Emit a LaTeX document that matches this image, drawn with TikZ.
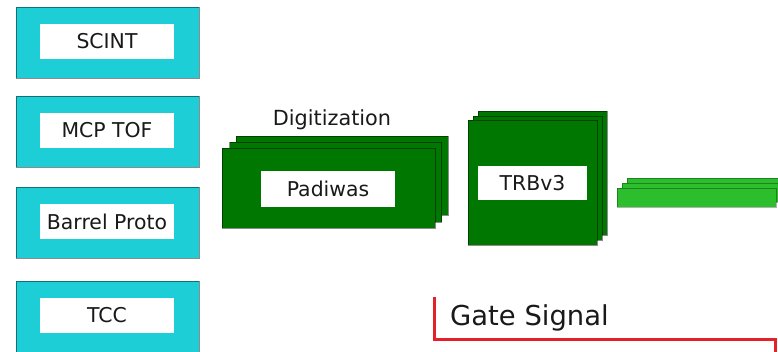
\documentclass[tikz,border=0pt]{standalone}
\usepackage{fontspec}
\setmainfont{DejaVu Sans}
\definecolor{cyanbox}{RGB}{30,206,214}
\definecolor{darkgreen}{RGB}{0,119,0}
\definecolor{lightgreen}{RGB}{44,190,44}
\definecolor{gatered}{RGB}{228,32,40}
\tikzset{
  detbox/.style={draw=black, draw opacity=0.45, line width=1pt, fill=cyanbox, minimum width=183pt, minimum height=71pt, inner sep=0pt},
  labelbox/.style={fill=white, inner sep=0pt, font=\fontsize{20.4}{24}\selectfont, text=black!90},
  gbox/.style={draw=black, draw opacity=0.45, line width=1pt, fill=darkgreen, inner sep=0pt},
  lgbox/.style={draw=black, draw opacity=0.3, line width=0.8pt, fill=lightgreen, inner sep=0pt, minimum width=159pt, minimum height=19pt},
  plain/.style={inner sep=0pt, text=black!90},
  gateline/.style={draw=gatered, line width=3pt}
}
\begin{document}
\begin{tikzpicture}[x=1pt,y=-1pt]
\useasboundingbox (0,0) rectangle (778,351);
\clip (0,0) rectangle (778,351);
% detector boxes
\node[detbox] (scintbox) at (107.5,42.5) {};
\node[labelbox, minimum width=134pt, minimum height=35pt] (scint) at (107,41.5) {SCINT};
\node[detbox] (mcpbox) at (107.5,131.5) {};
\node[labelbox, minimum width=134pt, minimum height=35pt] (mcp) at (107,130.5) {MCP TOF};
\node[detbox] (barrelbox) at (107.5,222.5) {};
\node[labelbox, minimum width=134pt, minimum height=35pt] (barrel) at (107,221.5) {Barrel Proto};
\node[detbox] (tccbox) at (107.5,316.5) {};
\node[labelbox, minimum width=134pt, minimum height=35pt] (tcc) at (107,315.5) {TCC};
% Padiwas stack
\node[plain, font=\fontsize{20.8}{24}\selectfont] (digit) at (332,119.5) {Digitization};
\node[gbox, minimum width=212pt, minimum height=79pt] (padback) at (342,175.5) {};
\node[gbox, minimum width=212pt, minimum height=80pt] (padmid) at (335.5,182) {};
\node[gbox, minimum width=213pt, minimum height=80pt] (padfront) at (328.5,188) {};
\node[labelbox, minimum width=134pt, minimum height=36pt] (padiwas) at (328,189) {Padiwas};
% TRBv3 stack
\node[gbox, minimum width=129pt, minimum height=124pt] (trbback) at (542.5,173) {};
\node[gbox, minimum width=129pt, minimum height=124pt] (trbmid) at (537.5,178) {};
\node[gbox, minimum width=129pt, minimum height=125pt] (trbfront) at (532.5,182.5) {};
\node[labelbox, minimum width=109pt, minimum height=34pt] (trb) at (532.5,183) {TRBv3};
% light green stack
\node[lgbox] (lgback) at (706.5,187.5) {};
\node[lgbox] (lgmid) at (701.5,192.5) {};
\node[lgbox] (lgfront) at (696.5,197.5) {};
% gate signal
\coordinate (gtop) at (434,297);
\coordinate (gcorner) at (434,339);
\coordinate (gright) at (775,339);
\coordinate (gend) at (775,353);
\draw[gateline] (gtop) -- (gcorner) -- (gright) -- (gend);
\node[plain, anchor=west, font=\fontsize{27.4}{30}\selectfont] (gate) at (450,318) {Gate Signal};
\end{tikzpicture}
\end{document}
